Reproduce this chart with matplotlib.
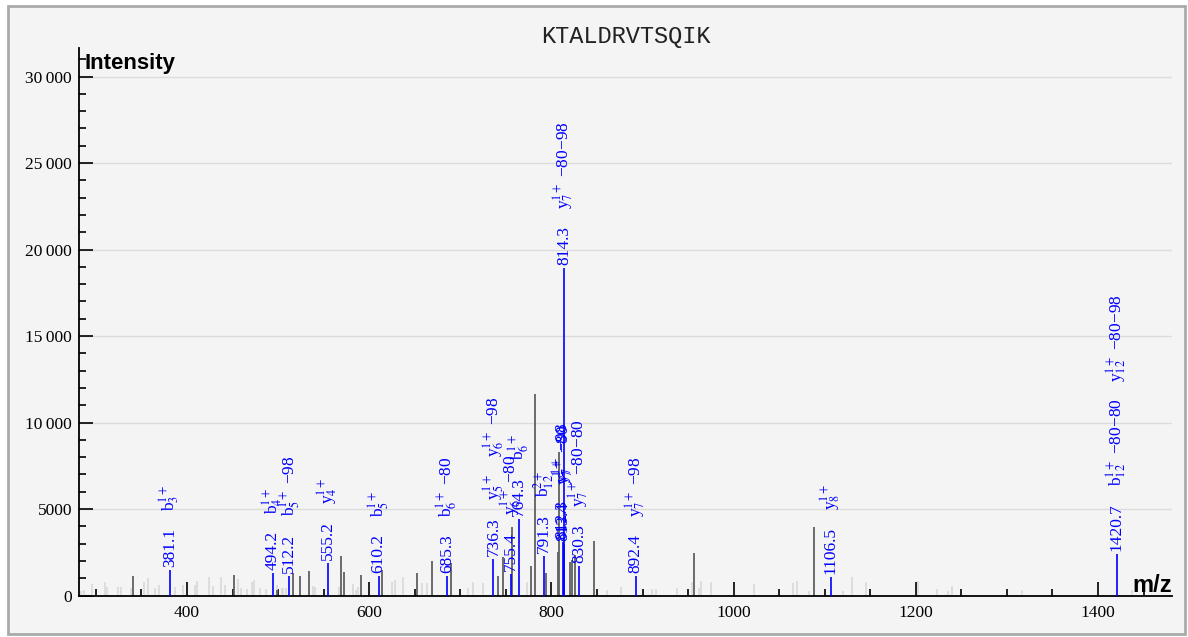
import matplotlib
matplotlib.use('Agg')
import matplotlib.pyplot as plt
from matplotlib.ticker import MultipleLocator, FuncFormatter
from matplotlib.patches import Rectangle

# unannotated low peaks (light grey)
light_mz = [283.3, 287.2, 295.7, 309.7, 312.2, 324.3, 327.6, 338.2, 352.5, 357.2,
            364.9, 368.9, 386.5, 395.6, 408.8, 411.0, 423.8, 428.5, 437.3, 441.4,
            456.0, 459.2, 465.5, 471.0, 473.5, 479.8, 486.7, 498.8, 504.0, 505.7,
            508.3, 538.0, 540.5, 567.2, 582.5, 585.5, 588.0, 624.7, 628.3, 636.8,
            657.6, 663.1, 708.8, 714.3, 725.3, 772.9, 860.7, 876.1, 910.1, 914.8,
            937.9, 954.0, 962.3, 964.5, 974.9, 1022.4, 1064.9, 1069.2, 1082.7, 1120.4,
            1129.6, 1145.0, 1202.1, 1222.9, 1235.7, 1240.1, 1316.3, 1437.0]
light_int = [260, 320, 670, 780, 490, 490, 490, 430, 780, 1010,
             430, 610, 490, 610, 610, 840, 1070, 570, 1090, 610,
             940, 430, 380, 780, 900, 450, 380, 610, 420, 420,
             420, 570, 510, 510, 650, 320, 510, 800, 900, 1090,
             740, 710, 420, 800, 700, 800, 320, 510, 380, 380,
             420, 800, 420, 840, 800, 670, 710, 860, 280, 280,
             1060, 770, 840, 380, 260, 550, 320, 320]

# unannotated peaks (dark grey)
dark_mz = [340.7, 451.6, 499.1, 515.9, 524.0, 534.3, 568.7, 572.3, 590.7, 613.7,
           652.8, 669.2, 689.4, 741.7, 747.2, 757.1, 777.3, 782.3, 793.7, 806.9,
           808.6, 820.4, 823.0, 825.9, 846.8, 956.5, 1088.6]
dark_int = [1150, 1190, 320, 1290, 1150, 1420, 2310, 1350, 1190, 1480,
            1320, 2000, 1870, 1150, 2250, 3970, 1710, 11630, 1300, 2540,
            8300, 1960, 2060, 2350, 3160, 2450, 3950]

# annotated fragment peaks (blue)
ann_mz = [381.1, 494.2, 512.2, 555.2, 610.2, 685.3, 736.3, 755.4, 764.3, 791.3,
          812.3, 813.4, 814.3, 830.3, 892.4, 1106.5, 1420.7]
ann_int = [1500, 1300, 1150, 1900, 1150, 1150, 2100, 1250, 4450, 2300,
           3100, 3000, 18950, 1700, 1150, 1080, 2400]
ann_ions = [
    [r'b$_3^{1+}$'],
    [r'b$_4^{1+}$'],
    [r'b$_5^{1+}$ −98'],
    [r'y$_4^{1+}$'],
    [r'b$_5^{1+}$'],
    [r'b$_6^{1+}$ −80'],
    [r'y$_5^{1+}$', r'y$_6^{1+}$ −98'],
    [r'y$_6^{1+}$ −80'],
    [r'b$_6^{1+}$'],
    [r'b$_{12}^{2+}$'],
    [r'y$_7^{1+}$ −98'],
    [r'y$_7^{1+}$ −80'],
    [r'y$_7^{1+}$ −80−98'],
    [r'y$_7^{1+}$ −80−80'],
    [r'y$_7^{1+}$ −98'],
    [r'y$_8^{1+}$'],
    [r'b$_{12}^{1+}$ −80−80', r'y$_{12}^{1+}$ −80−98'],
]

title = 'KTALDRVTSQIK'

plt.rcParams['font.family'] = ['Liberation Serif', 'DejaVu Serif']
plt.rcParams['mathtext.fontset'] = 'stix'

W, H = 1188, 637
fig = plt.figure(figsize=(W / 100, H / 100), dpi=100, facecolor='white')
fig.patches.append(Rectangle((8 / W, 3 / H), 1177 / W, 628 / H, transform=fig.transFigure,
                             facecolor='#f4f4f4', edgecolor='#aaaaaa', linewidth=2, zorder=-10))

ax = fig.add_axes([79 / W, 41.5 / H, 1093 / W, 547.5 / H])
ax.patch.set_alpha(0)

ax.vlines(light_mz, 0, light_int, colors='#d9d9d9', linewidth=1.2, zorder=1)
ax.vlines(dark_mz, 0, dark_int, colors='#606060', linewidth=1.3, zorder=2)
ax.vlines(ann_mz, 0, ann_int, colors='#0000ff', linewidth=1.2, zorder=3)

ax.set_xlim(281.4, 1481.2)
ax.set_ylim(0, 31650)
ax.spines['top'].set_visible(False)
ax.spines['right'].set_visible(False)
ax.spines['left'].set_linewidth(1.3)
ax.spines['bottom'].set_linewidth(1.3)

ax.xaxis.set_major_locator(MultipleLocator(200))
ax.xaxis.set_minor_locator(MultipleLocator(50))
ax.yaxis.set_major_locator(MultipleLocator(5000))
ax.yaxis.set_minor_locator(MultipleLocator(1000))


def fmt(v, p):
    v = int(round(v))
    if v >= 10000:
        return f'{v:,}'.replace(',', '\u2009')
    return str(v)


ax.yaxis.set_major_formatter(FuncFormatter(fmt))
ax.tick_params(which='major', direction='in', length=10, width=1.2, labelsize=12.5)
ax.tick_params(which='minor', direction='in', length=5, width=1.2)
ax.tick_params(axis='x', which='major', pad=7)
ax.tick_params(axis='y', which='major', pad=5)
ax.yaxis.grid(True, color='#dcdcdc', linewidth=1)
ax.set_axisbelow(True)

ax.set_title(title, fontfamily='Liberation Mono', fontsize=17, pad=3, color='#222222')
ax.text(0.005, 0.99, 'Intensity', transform=ax.transAxes, fontfamily='Liberation Sans',
        fontweight='bold', fontsize=16, va='top', ha='left')
ax.text(1.0, 0.006, 'm/z', transform=ax.transAxes, fontfamily='Liberation Sans',
        fontweight='bold', fontsize=17, va='baseline', ha='right')

# stacked rotated labels above each annotated peak
fig.canvas.draw()
renderer = fig.canvas.get_renderer()
for mz, inten, ions in zip(ann_mz, ann_int, ann_ions):
    off = 3
    for i, s in enumerate([f'{mz:.1f}'] + ions):
        t = ax.annotate(s, xy=(mz, inten), xytext=(0, off * 0.72), textcoords='offset points',
                        rotation=90, ha='center', va='bottom', color='#0000ff',
                        fontsize=12.5, zorder=4)
        off += t.get_window_extent(renderer).height + 17

fig.savefig('out.png', dpi=100, facecolor=fig.get_facecolor())
